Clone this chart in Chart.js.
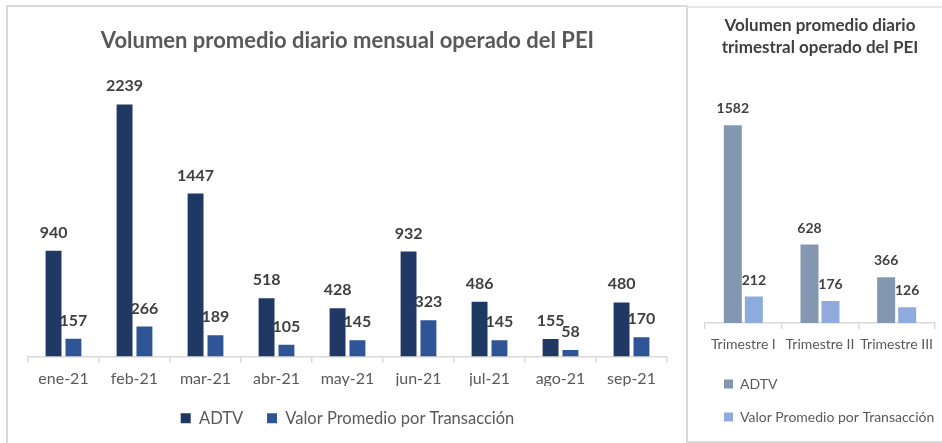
<!DOCTYPE html>
<html>
<head>
<meta charset="utf-8">
<script src="https://cdn.jsdelivr.net/npm/chart.js@4/dist/chart.umd.min.js"></script>
<style>
  html, body { margin: 0; padding: 0; background: #ffffff; }
  body { width: 942px; height: 443px; position: relative; overflow: hidden; }
  .box { position: absolute; box-sizing: border-box; }
  #boxL { left: 6px; top: 5px; width: 682px; height: 450px; border-left: 2px solid #d9d9d9; border-top: 2px solid #d9d9d9; }
  #boxR { left: 686px; top: 6px; width: 260px; height: 437px; border-left: 2px solid #d9d9d9; border-top: 2px solid #e6e6e6; border-bottom: 2px solid #d9d9d9; }
  canvas { position: absolute; }
  #cL { left: 0; top: 0; }
  #cR { left: 688px; top: 8px; }
</style>
</head>
<body>
<div class="box" id="boxL"></div>
<div class="box" id="boxR"></div>
<canvas id="cL" width="686" height="443"></canvas>
<canvas id="cR" width="254" height="432"></canvas>
<script>
// ---- data ----
const monthLabels = ['ene-21','feb-21','mar-21','abr-21','may-21','jun-21','jul-21','ago-21','sep-21'];
const monthADTV   = [940, 2239, 1447, 518, 428, 932, 486, 155, 480];
const monthVPT    = [157, 266, 189, 105, 145, 323, 145, 58, 170];

const quarterLabels = ['Trimestre I','Trimestre II','Trimestre III'];
const quarterADTV   = [1582, 628, 366];
const quarterVPT    = [212, 176, 126];

const seriesNames = ['ADTV', 'Valor Promedio por Transacción'];
const FONT = "Lato, 'Open Sans', 'Liberation Sans', sans-serif";

// simple inline data-label plugin
const valueLabels = {
  id: 'valueLabels',
  afterDatasetsDraw(chart, args, opts) {
    const ctx = chart.ctx;
    ctx.save();
    ctx.font = `bold ${opts.size}px ${FONT}`;
    ctx.fillStyle = opts.color;
    ctx.textAlign = 'center';
    ctx.textBaseline = 'alphabetic';
    chart.data.datasets.forEach((ds, di) => {
      const meta = chart.getDatasetMeta(di);
      meta.data.forEach((el, i) => {
        ctx.fillText(String(ds.data[i]), el.x, el.y - opts.gap);
      });
    });
    ctx.restore();
  }
};

function xAxis(height, fontSize, padding) {
  return {
    grid: { offset: true, drawOnChartArea: false, tickLength: 6, color: '#d9d9d9', lineWidth: 1.5 },
    border: { display: true, color: '#d9d9d9', width: 1.5 },
    ticks: { color: '#595959', font: { family: FONT, size: fontSize }, padding: padding, maxRotation: 0, autoSkip: false },
    afterFit(scale) { scale.height = height; }
  };
}

new Chart(document.getElementById('cL'), {
  type: 'bar',
  data: {
    labels: monthLabels,
    datasets: [
      { label: seriesNames[0], data: monthADTV, backgroundColor: '#203864', categoryPercentage: 0.56, barPercentage: 0.8 },
      { label: seriesNames[1], data: monthVPT,  backgroundColor: '#2f5597', categoryPercentage: 0.56, barPercentage: 0.8 }
    ]
  },
  options: {
    responsive: false,
    animation: false,
    layout: { padding: { left: 28, right: 19, top: 0, bottom: 6.5 } },
    scales: {
      x: xAxis(29.5, 16, 7),
      y: { display: false, min: 0, max: 2500 }
    },
    plugins: {
      title: {
        display: true,
        text: 'Volumen promedio diario mensual operado del PEI',
        color: '#595959',
        font: { family: FONT, size: 22, weight: 'bold', lineHeight: 1.2 },
        padding: { top: 28, bottom: 20.6 }
      },
      legend: {
        position: 'bottom',
        labels: { color: '#595959', font: { family: FONT, size: 16.5 }, boxWidth: 10, boxHeight: 10, padding: 24 }
      },
      tooltip: { enabled: false },
      valueLabels: { size: 16, color: '#404040', gap: 13 }
    }
  },
  plugins: [valueLabels]
});

new Chart(document.getElementById('cR'), {
  type: 'bar',
  data: {
    labels: quarterLabels,
    datasets: [
      { label: seriesNames[0], data: quarterADTV, backgroundColor: '#8497b0', categoryPercentage: 0.548, barPercentage: 0.857 },
      { label: seriesNames[1], data: quarterVPT,  backgroundColor: '#8faadc', categoryPercentage: 0.548, barPercentage: 0.857 }
    ]
  },
  options: {
    responsive: false,
    animation: false,
    layout: { padding: { left: 17, right: 7, top: 0, bottom: 6 } },
    scales: {
      x: xAxis(35, 14, 7),
      y: { display: false, min: 0, max: 1800 }
    },
    plugins: {
      title: {
        display: true,
        text: ['Volumen promedio diario', 'trimestral operado del PEI'],
        color: '#404040',
        font: { family: FONT, size: 17, weight: 'bold', lineHeight: 1.3 },
        padding: { top: 6, bottom: 39.8 }
      },
      legend: {
        position: 'bottom',
        align: 'start',
        labels: { color: '#595959', font: { family: FONT, size: 14 }, boxWidth: 9, boxHeight: 9, padding: 19 }
      },
      tooltip: { enabled: false },
      valueLabels: { size: 14, color: '#404040', gap: 12 }
    }
  },
  plugins: [valueLabels]
});
</script>
</body>
</html>
